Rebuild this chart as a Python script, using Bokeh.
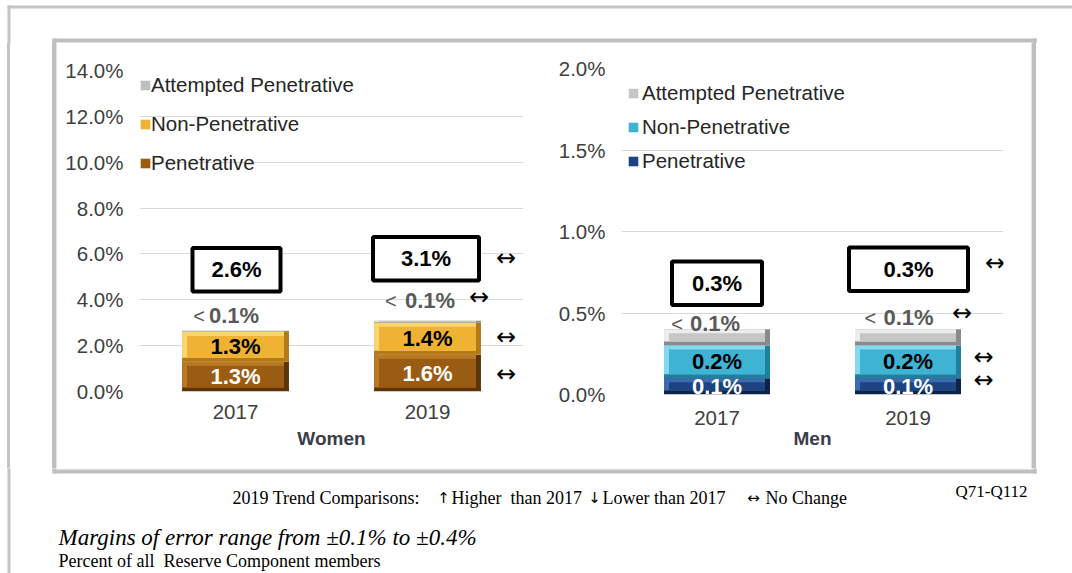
import numpy as np
from bokeh.plotting import figure
from bokeh.models import ColumnDataSource, Range1d, FixedTicker, Legend, LegendItem, Spacer
from bokeh.layouts import row, column
from bokeh.embed import file_html
from bokeh.resources import INLINE
from bokeh.core.properties import value

# ---------------- data ----------------
years = ["2017", "2019"]
series_names = ["Penetrative", "Non-Penetrative", "Attempted Penetrative"]

women_pen = [1.3, 1.6]
women_nonpen = [1.3, 1.4]
women_att = [0.05, 0.09]
women_pen_lbl = ["1.3%", "1.6%"]
women_nonpen_lbl = ["1.3%", "1.4%"]
women_att_lbl = ["0.1%", "0.1%"]
women_total_lbl = ["2.6%", "3.1%"]
women_ticks = [0.0, 2.0, 4.0, 6.0, 8.0, 10.0, 12.0, 14.0]
women_tick_lbl = ["0.0%", "2.0%", "4.0%", "6.0%", "8.0%", "10.0%", "12.0%", "14.0%"]

men_pen = [0.1, 0.1]
men_nonpen = [0.2, 0.2]
men_att = [0.1, 0.1]
men_pen_lbl = ["0.1%", "0.1%"]
men_nonpen_lbl = ["0.2%", "0.2%"]
men_att_lbl = ["0.1%", "0.1%"]
men_total_lbl = ["0.3%", "0.3%"]
men_ticks = [0.0, 0.5, 1.0, 1.5, 2.0]
men_tick_lbl = ["0.0%", "0.5%", "1.0%", "1.5%", "2.0%"]

# 2019 vs 2017 trend markers: total, attempted, non-penetrative, penetrative
women_trend = ["\u2194", "\u2194", "\u2194", "\u2194"]
men_trend = ["\u2194", "\u2194", "\u2194", "\u2194"]

trend_key_title = "2019 Trend Comparisons:"
trend_key_text = ["Higher\u00a0 than 2017", "Lower than 2017", "No Change"]
trend_key_sym = ["\u2191", "\u2193", "\u2194"]
question_ref = "Q71-Q112"
moe_note = "Margins of error range from \u00b10.1% to \u00b10.4%"
base_note = "Percent of all \u00a0Reserve Component members"

# ---------------- styling ----------------
FONT = "Liberation Sans"
SANS = value(FONT)
SERIF = value("Liberation Serif")
ARROWF = value("DejaVu Sans")
GRAY_FRAME = "#bfbfbf"

women_colors = [("#5c3406", "#b87a24", "#9a5c12"),
                ("#b57a14", "#fbd56e", "#f0b232"),
                ("#8c8c8c", "#e6e6e6", "#bfbfbf")]
men_colors = [("#0d2347", "#3c6cb0", "#1d4480"),
              ("#1f7f9d", "#86d8ef", "#3fb3d4"),
              ("#8a8a8a", "#ededed", "#c6c6c6")]

women_style = dict(geom=(483, 425, 82, 17, 27, 77), bar_w=0.557,
                   box_w=[88, 106], box_off=[61, 62], box_dx=[1, -1.5],
                   att_dy=[15.7, 20.6], att_dx=[-26.5, -22.5], lt_dx=[-30.5, -30.8],
                   arrow_dx=[78.5, 51.5, 78.5, 78.5], arrow_dy=[-1, -23.6, -2, 1],
                   tick_standoff=13, label_standoff=6,
                   legend_loc=(0, 216), legend_spacing=15, legend_standoff=0)
men_style = dict(geom=(491, 425, 81, 28, 25, 74), bar_w=0.555,
                 box_w=[90, 119], box_off=[46, 60], box_dx=[0, 0.5],
                 att_dy=[6, 12.3], att_dx=[-27, -24.5], lt_dx=[-34, -31.8],
                 arrow_dx=[87, 54, 75.5, 75.5], arrow_dy=[-6, -16, -5, -6],
                 tick_standoff=16, label_standoff=0,
                 legend_loc=(6, 221), legend_spacing=10, legend_standoff=3)


def make_panel(title, vals, pen_lbl, nonpen_lbl, att_lbl, total_lbl, trend,
               ticks, tick_lbls, colors, st):
    W, H, bl, br, bt, bb = st["geom"]
    ymax = ticks[-1]
    p = figure(width=W, height=H, x_range=Range1d(-0.5, 1.5), y_range=Range1d(0, ymax),
               min_border_left=bl, min_border_right=br, min_border_top=bt,
               min_border_bottom=bb, toolbar_location=None, output_backend="svg")
    fw = W - bl - br
    fh = H - bt - bb
    ppx = fw / 2.0
    ppy = fh / ymax
    xs = np.arange(len(years), dtype=float)
    half = st["bar_w"] / 2.0

    L, R, B, T, dark, light, main = [], [], [], [], [], [], []
    base = np.zeros(len(years))
    mids = []
    for k, v in enumerate(vals):
        v = np.asarray(v, float)
        L += list(xs - half)
        R += list(xs + half)
        B += list(base)
        T += list(base + v)
        mids.append(base + v / 2.0)
        dark += [colors[k][0]] * len(years)
        light += [colors[k][1]] * len(years)
        main += [colors[k][2]] * len(years)
        base = base + v
    tops = base
    L, R, B, T = map(np.array, (L, R, B, T))
    bx = 5.0 / ppx
    by = np.minimum(4.0 / ppy, (T - B) / 3.0)
    src = ColumnDataSource(dict(L=L, R=R, B=B, T=T, L2=L, R2=R - bx, B2=B + by,
                                L3=L + bx, R3=R - bx, B3=B + by, T3=T - by,
                                dark=dark, light=light, main=main))

    # axes / grid
    p.xgrid.visible = False
    p.ygrid.ticker = FixedTicker(ticks=ticks)
    p.ygrid.grid_line_color = "#d9d9d9"
    p.outline_line_color = None
    p.yaxis.ticker = FixedTicker(ticks=ticks)
    p.yaxis.major_label_overrides = {float(t): s for t, s in zip(ticks, tick_lbls)}
    p.xaxis.ticker = FixedTicker(ticks=list(xs))
    p.xaxis.major_label_overrides = {float(i): y for i, y in zip(xs, years)}
    for ax in (p.xaxis[0], p.yaxis[0]):
        ax.axis_line_color = None
        ax.major_tick_line_color = None
        ax.minor_tick_line_color = None
        ax.major_tick_out = 0
        ax.major_tick_in = 0
        ax.major_label_text_font = FONT
        ax.major_label_text_font_size = "20.5px"
        ax.major_label_text_color = "#404040"
    p.yaxis.major_label_standoff = 16
    p.xaxis.major_label_standoff = st["tick_standoff"]
    p.xaxis.axis_label = title
    p.xaxis.axis_label_text_font = FONT
    p.xaxis.axis_label_text_font_size = "19px"
    p.xaxis.axis_label_text_font_style = "bold"
    p.xaxis.axis_label_text_color = "#3c3c4a"
    p.xaxis.axis_label_standoff = st["label_standoff"]

    # beveled bars
    p.quad(left="L", right="R", bottom="B", top="T", fill_color="dark",
           line_color=None, source=src)
    p.quad(left="L2", right="R2", bottom="B2", top="T", fill_color="light",
           line_color=None, source=src)
    r_main = p.quad(left="L3", right="R3", bottom="B3", top="T3", fill_color="main",
                    line_color=None, source=src)

    # in-bar labels
    p.text(x=list(xs) * 2, y=list(mids[0]) + list(mids[1]), text=pen_lbl + nonpen_lbl,
           text_color=["white"] * 2 + ["black"] * 2, text_font=SANS,
           text_font_style="bold", text_font_size="22px", text_align="center",
           text_baseline="middle")

    # attempted (< 0.1%) labels
    ady = [-d for d in st["att_dy"]]
    p.text(x=list(xs), y=list(tops), text=att_lbl, x_offset=st["att_dx"], y_offset=ady,
           text_color="#595959", text_font=SANS, text_font_style="bold",
           text_font_size="22px", text_align="left", text_baseline="middle")
    p.text(x=list(xs), y=list(tops), text=["<"] * len(years), x_offset=st["lt_dx"],
           y_offset=[d + 1 for d in ady], text_color="#595959", text_font=SANS,
           text_font_size="20px", text_align="right", text_baseline="middle")

    # total boxes
    box_x = xs + np.array(st["box_dx"]) / ppx
    box_y = tops + np.array(st["box_off"]) / ppy
    p.rect(x=box_x, y=box_y, width=st["box_w"], height=[43.5] * len(years),
           width_units="screen", height_units="screen", fill_color="white",
           line_color="black", line_width=4)
    p.text(x=box_x, y=box_y, text=total_lbl, text_color="black", text_font=SANS,
           text_font_style="bold", text_font_size="22px", text_align="center",
           text_baseline="middle")

    # trend markers for 2019
    i = len(years) - 1
    anchors = [box_y[i], tops[i], mids[1][i], mids[0][i]]
    p.text(x=[xs[i]] * 4, y=anchors, text=trend, x_offset=st["arrow_dx"],
           y_offset=st["arrow_dy"], text_color="black", text_font=ARROWF,
           text_font_size="24px", text_align="center", text_baseline="middle")

    # legend
    idx = {0: 0, 1: 2, 2: 4}
    items = [LegendItem(label=series_names[k], renderers=[r_main], index=idx[k])
             for k in (2, 1, 0)]
    leg = Legend(items=items, location=st["legend_loc"], orientation="vertical",
                 background_fill_alpha=0, border_line_color=None, padding=0, margin=0,
                 spacing=st["legend_spacing"], label_height=23, glyph_height=12,
                 glyph_width=12, label_standoff=st["legend_standoff"],
                 label_text_font=FONT, label_text_font_size="20.5px",
                 label_text_color="#262626")
    p.add_layout(leg)
    return p


# ---------------- frame pieces (page pixel coordinates) ----------------
frame_rects = [
    (7, 1072, 5, 8, "#c4c4c4"),       # outer top rule
    (7, 10, 5, 573, "#c4c4c4"),       # outer left rule
    (52, 1036, 38, 42, GRAY_FRAME),   # inner box top
    (52, 56, 38, 473, GRAY_FRAME),    # inner box left
    (1032, 1036, 38, 473, GRAY_FRAME),  # inner box right
    (52, 1036, 469, 473, GRAY_FRAME),   # inner box bottom
    (56, 1032, 42, 43, "#e2e2e2"),
    (56, 57, 42, 469, "#e2e2e2"),
    (1031, 1032, 42, 469, "#e2e2e2"),
    (56, 1032, 468, 469, "#e2e2e2"),
]


def strip(x0, x1, y0, y1):
    f = figure(width=x1 - x0, height=y1 - y0, x_range=Range1d(x0, x1),
               y_range=Range1d(y1, y0), min_border=0, toolbar_location=None,
               output_backend="svg", x_axis_location=None, y_axis_location=None)
    f.grid.visible = False
    f.outline_line_color = None
    a, b, c, d, col = zip(*frame_rects)
    f.quad(left=list(a), right=list(b), top=list(c), bottom=list(d),
           fill_color=list(col), line_color=None)
    return f


def side(x0, x1):
    stops = []
    for a, b, c, d, col in frame_rects:
        if c <= 43 and d >= 468 and a < x1 and b > x0:
            stops.append((max(a, x0) - x0, min(b, x1) - x0, col))
    stops.sort()
    parts = []
    pos = 0
    for a, b, col in stops:
        parts.append(f"#ffffff {pos}px, #ffffff {a}px, {col} {a}px, {col} {b}px")
        pos = b
    parts.append(f"#ffffff {pos}px, #ffffff {x1 - x0}px")
    grad = "linear-gradient(to right, " + ", ".join(parts) + ")"
    return Spacer(width=x1 - x0, height=425, margin=0,
                  styles={"background": grad})


top_fig = strip(0, 1072, 0, 43)
bottom_fig = strip(0, 1072, 468, 573)
left_side = side(0, 57)
right_side = side(1031, 1072)

bottom_fig.text(x=[232], y=[497], text=[trend_key_title], text_font=SERIF,
                text_font_size="18px", text_color="black", text_baseline="middle",
                text_align="left")
bottom_fig.text(x=[451, 602, 765], y=[497] * 3, text=trend_key_text, text_font=SERIF,
                text_font_size="18px", text_color="black", text_baseline="middle",
                text_align="left")
bottom_fig.text(x=[443, 594, 753], y=[497] * 3, text=trend_key_sym, text_font=ARROWF,
                text_font_size="15px", text_color="black", text_baseline="middle",
                text_align="center")
bottom_fig.text(x=[955], y=[491], text=[question_ref], text_font=SERIF,
                text_font_size="17px", text_color="black", text_baseline="middle")
bottom_fig.text(x=[58], y=[537], text=[moe_note], text_font=SERIF,
                text_font_size="23px", text_font_style="italic", text_color="black",
                text_baseline="middle")
bottom_fig.text(x=[58], y=[560], text=[base_note], text_font=SERIF,
                text_font_size="18px", text_color="black", text_baseline="middle")

women = make_panel("Women", [women_pen, women_nonpen, women_att], women_pen_lbl,
                   women_nonpen_lbl, women_att_lbl, women_total_lbl, women_trend,
                   women_ticks, women_tick_lbl, women_colors, women_style)
men = make_panel("Men", [men_pen, men_nonpen, men_att], men_pen_lbl,
                 men_nonpen_lbl, men_att_lbl, men_total_lbl, men_trend,
                 men_ticks, men_tick_lbl, men_colors, men_style)

layout = column(top_fig, row(left_side, women, column(men), right_side), bottom_fig)

with open("out.html", "w") as fh:
    fh.write(file_html(layout, INLINE))
